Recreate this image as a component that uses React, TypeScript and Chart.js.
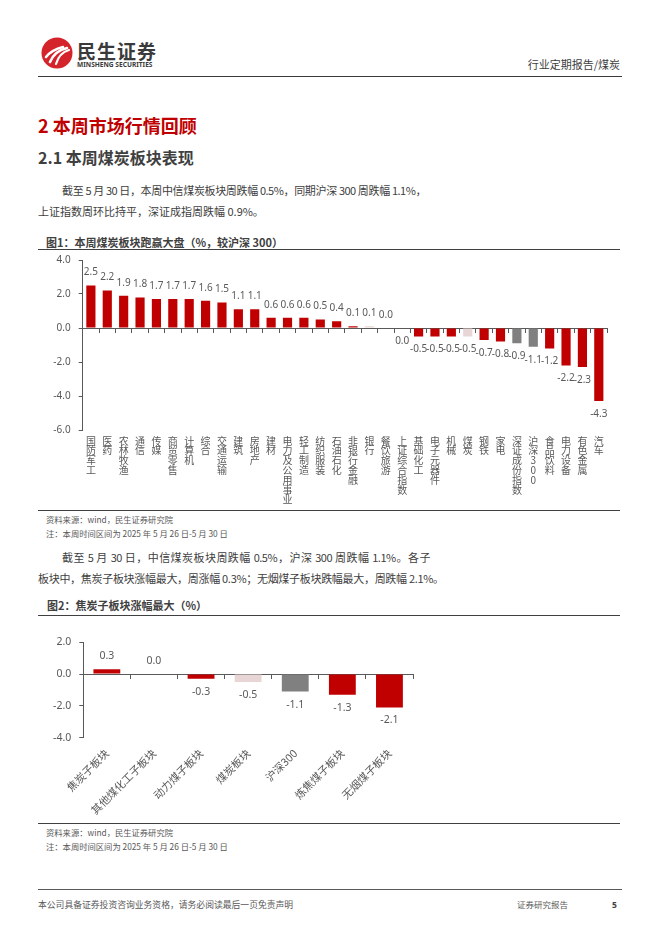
import React, { useEffect, useRef } from 'react';
import { Chart, registerables } from 'chart.js';

Chart.register(...registerables);

const FONT = "'Noto Sans', 'Noto Sans CJK SC', sans-serif";
const CJK = "'Noto Sans CJK SC', 'Noto Sans', sans-serif";

// ---------- Figure 1 data ----------
const sectors1 = [
  '国防军工', '医药', '农林牧渔', '通信', '传媒', '商贸零售', '计算机', '综合',
  '交通运输', '建筑', '房地产', '建材', '电力及公用事业', '轻工制造', '纺织服装', '石油石化',
  '非银行金融', '银行', '餐饮旅游', '上证综合指数', '基础化工', '电子元器件', '机械', '煤炭',
  '钢铁', '家电', '深证成份指数', '沪深300', '食品饮料', '电力设备', '有色金属', '汽车',
];
const values1 = [
  2.5, 2.2, 1.9, 1.8, 1.7, 1.7, 1.7, 1.6,
  1.5, 1.1, 1.1, 0.6, 0.6, 0.6, 0.5, 0.4,
  0.1, 0.1, 0.0, -0.03, -0.5, -0.5, -0.5, -0.5,
  -0.7, -0.8, -0.9, -1.1, -1.2, -2.2, -2.3, -4.3,
];
const light1 = ['银行', '上证综合指数', '煤炭'];
const gray1 = ['深证成份指数', '沪深300'];
const yRange1 = [-6, 4];

// ---------- Figure 2 data ----------
const sectors2 = ['焦炭子板块', '其他煤化工子板块', '动力煤子板块', '煤炭板块', '沪深300', '炼焦煤子板块', '无烟煤子板块'];
const values2 = [0.3, 0.0, -0.3, -0.5, -1.1, -1.3, -2.1];
const light2 = ['煤炭板块'];
const gray2 = ['沪深300'];
const yRange2 = [-4, 2];

const RED = '#C00000';
const LIGHT = '#E8D5D5';
const GRAY = '#808080';
const AXIS = '#595959';
const TXT = '#404040';

function colorsFor(names: string[], light: string[], gray: string[]) {
  return names.map((n) => (gray.includes(n) ? GRAY : light.includes(n) ? LIGHT : RED));
}

function fmt(v: number) {
  const r = Math.round(v * 10) / 10;
  return (Object.is(r, -0) ? 0 : r).toFixed(1);
}

function labelPlugin(size: number, off: number) {
  return {
    id: 'valueLabels',
    afterDatasetsDraw(chart: any) {
      const ctx = chart.ctx;
      const meta = chart.getDatasetMeta(0);
      const data = chart.data.datasets[0].data as number[];
      ctx.save();
      ctx.font = `${size}px ${FONT}`;
      ctx.fillStyle = AXIS;
      ctx.textAlign = 'center';
      ctx.textBaseline = 'middle';
      meta.data.forEach((bar: any, i: number) => {
        const v = data[i];
        const y = v >= 0 ? bar.y - off : bar.y + off;
        ctx.fillText(fmt(v), bar.x, y);
      });
      ctx.restore();
    },
  };
}

type BarProps = {
  labels: string[];
  values: number[];
  colors: string[];
  range: number[];
  width: number;
  height: number;
  left: number;
  top: number;
  yWidth: number;
  xHeight: number;
  padTop: number;
  padRight: number;
  barPct: number;
  vertical: boolean;
  tickSize: number;
  labelSize: number;
  xPad: number;
};

function BarChart(p: BarProps) {
  const ref = useRef<HTMLCanvasElement>(null);
  useEffect(() => {
    if (!ref.current) return;
    const chart = new Chart(ref.current, {
      type: 'bar',
      data: {
        labels: p.labels,
        datasets: [
          {
            data: p.values,
            backgroundColor: p.colors,
            barPercentage: p.barPct,
            categoryPercentage: 1,
          },
        ],
      },
      options: {
        animation: false,
        responsive: false,
        maintainAspectRatio: false,
        layout: { padding: { left: 0, right: p.padRight, top: p.padTop, bottom: 0 } },
        plugins: { legend: { display: false }, tooltip: { enabled: false } },
        scales: {
          x: {
            grid: { display: false, drawTicks: false },
            border: { display: false },
            ticks: {
              autoSkip: false,
              maxRotation: p.vertical ? 0 : 45,
              minRotation: p.vertical ? 0 : 45,
              padding: p.xPad,
              color: AXIS,
              font: { size: p.tickSize, family: CJK, lineHeight: p.vertical ? 0.98 : 1.2 },
              callback: (_v: any, i: number) => (p.vertical ? Array.from(p.labels[i]) : p.labels[i]),
            },
            afterFit: (s: any) => {
              s.height = p.xHeight;
            },
          },
          x2: {
            type: 'category',
            offset: true,
            position: { y: 0 },
            grid: { offset: true, drawOnChartArea: false, drawTicks: true, tickLength: 4, color: AXIS },
            border: { display: true, color: AXIS, width: 1 },
            ticks: { display: false },
          },
          y: {
            min: p.range[0],
            max: p.range[1],
            ticks: {
              stepSize: 2,
              color: AXIS,
              padding: 8,
              font: { size: p.labelSize, family: FONT },
              callback: (v: any) => Number(v).toFixed(1),
            },
            grid: { drawOnChartArea: false, drawTicks: true, tickLength: 4, color: AXIS },
            border: { display: true, color: AXIS, width: 1 },
            afterFit: (s: any) => {
              s.width = p.yWidth;
            },
          },
        },
      } as any,
      plugins: [labelPlugin(p.labelSize, 13)],
    });
    return () => chart.destroy();
  }, []);
  return (
    <canvas
      ref={ref}
      width={p.width}
      height={p.height}
      style={{ position: 'absolute', left: p.left, top: p.top, width: p.width, height: p.height }}
    />
  );
}

function T(props: {
  x: number; y: number; size: number; children: any; color?: string; bold?: boolean;
  right?: boolean; family?: string; ls?: number; w?: number;
}) {
  const lh = Math.round(props.size * 1.5);
  const style: any = {
    position: 'absolute',
    top: props.y - lh / 2,
    lineHeight: lh + 'px',
    fontSize: props.size,
    color: props.color || TXT,
    fontWeight: props.bold ? 700 : 400,
    whiteSpace: 'nowrap',
    fontFamily: props.family || CJK,
    letterSpacing: props.ls || 0,
  };
  if (props.w) {
    style.width = props.w;
    style.textAlign = 'justify';
    style.textAlignLast = 'justify';
    style.textJustify = 'inter-character';
  }
  if (props.right) style.right = 662 - props.x;
  else style.left = props.x;
  return <div style={style}>{props.children}</div>;
}

function HLine(props: { y: number; x1: number; x2: number; color?: string; w?: number }) {
  return (
    <div
      style={{
        position: 'absolute',
        left: props.x1,
        top: props.y - (props.w || 1) / 2,
        width: props.x2 - props.x1,
        height: props.w || 1,
        background: props.color || '#404040',
      }}
    />
  );
}

export default function App() {
  const colors1 = colorsFor(sectors1, light1, gray1);
  const colors2 = colorsFor(sectors2, light2, gray2);
  return (
    <div lang="zh-CN" style={{ position: 'absolute', left: 0, top: 0, width: 662, height: 936, background: '#fff', overflow: 'hidden', fontFamily: CJK }}>
      {/* header */}
      <svg width={32} height={32} viewBox="0 0 32 32" style={{ position: 'absolute', left: 41, top: 37 }}>
        <circle cx={16} cy={16} r={15.5} fill="#D5232B" />
        <path d="M5 20 C 9 15, 14 12, 22 10" stroke="#fff" strokeWidth={2.6} fill="none" strokeLinecap="round" />
        <path d="M9 25 C 12 18, 17 13, 26 11" stroke="#fff" strokeWidth={2.6} fill="none" strokeLinecap="round" />
        <path d="M15 27 C 17 20, 21 15, 28 13" stroke="#fff" strokeWidth={2.2} fill="none" strokeLinecap="round" />
      </svg>
      <T x={77} y={50} size={19} bold color="#3a3a3a" ls={1}>民生证券</T>
      <T x={77} y={65} size={6.6} bold color="#3a3a3a" family={FONT}>MINSHENG SECURITIES</T>
      <T x={620} y={64} size={11} right color={TXT}>行业定期报告/煤炭</T>
      <HLine y={76} x1={38} x2={622} color="#3a3a3a" />

      <T x={38} y={125} size={18} bold color={RED}>2 本周市场行情回顾</T>
      <T x={38} y={157} size={16} bold color="#3f3f3f">2.1 本周煤炭板块表现</T>
      <T x={62} y={190} size={11} ls={-0.5} w={364}>截至 5 月 30 日，本周中信煤炭板块周跌幅 0.5%，同期沪深 300 周跌幅 1.1%，</T>
      <T x={38} y={211} size={11} ls={0}>上证指数周环比持平，深证成指周跌幅 0.9%。</T>

      {/* figure 1 */}
      <T x={46} y={242.5} size={11} bold>图1：本周煤炭板块跑赢大盘（%，较沪深 300）</T>
      <HLine y={249.5} x1={38} x2={620} />
      <BarChart
        labels={sectors1}
        values={values1}
        colors={colors1}
        range={yRange1}
        left={38}
        top={246}
        width={582}
        height={266}
        yWidth={44.7}
        xHeight={82}
        padTop={10}
        padRight={13}
        barPct={0.56}
        vertical
        tickSize={10}
        labelSize={10}
        xPad={6}
      />
      <HLine y={510} x1={38} x2={620} />
      <T x={46} y={519} size={8.3} color="#595959">资料来源：wind，民生证券研究院</T>
      <T x={46} y={533} size={8.3} color="#595959">注：本周时间区间为 2025 年 5 月 26 日-5 月 30 日</T>

      <T x={62} y={557} size={11} ls={-0.5} w={368}>截至 5 月 30 日，中信煤炭板块周跌幅 0.5%，沪深 300 周跌幅 1.1%。各子</T>
      <T x={38} y={578} size={11} ls={-0.3}>板块中，焦炭子板块涨幅最大，周涨幅 0.3%；无烟煤子板块跌幅最大，周跌幅 2.1%。</T>

      {/* figure 2 */}
      <T x={47} y={605} size={11} bold>图2：焦炭子板块涨幅最大（%）</T>
      <HLine y={615.5} x1={38} x2={620} />
      <BarChart
        labels={sectors2}
        values={values2}
        colors={colors2}
        range={yRange2}
        left={38}
        top={628}
        width={392}
        height={192}
        yWidth={45.3}
        xHeight={82.3}
        padTop={10}
        padRight={17}
        barPct={0.57}
        vertical={false}
        tickSize={10.8}
        labelSize={10.5}
        xPad={9}
      />
      <HLine y={823} x1={38} x2={620} />
      <T x={46} y={832} size={8.3} color="#595959">资料来源：wind，民生证券研究院</T>
      <T x={46} y={846} size={8.3} color="#595959">注：本周时间区间为 2025 年 5 月 26 日-5 月 30 日</T>

      {/* footer */}
      <HLine y={889} x1={38} x2={622} color="#595959" />
      <T x={38} y={904} size={8.8} color="#595959">本公司具备证券投资咨询业务资格，请务必阅读最后一页免责声明</T>
      <T x={517} y={904} size={8.5} color="#595959">证券研究报告</T>
      <T x={612} y={904} size={8.5} bold color="#404040" family={FONT}>5</T>
    </div>
  );
}
